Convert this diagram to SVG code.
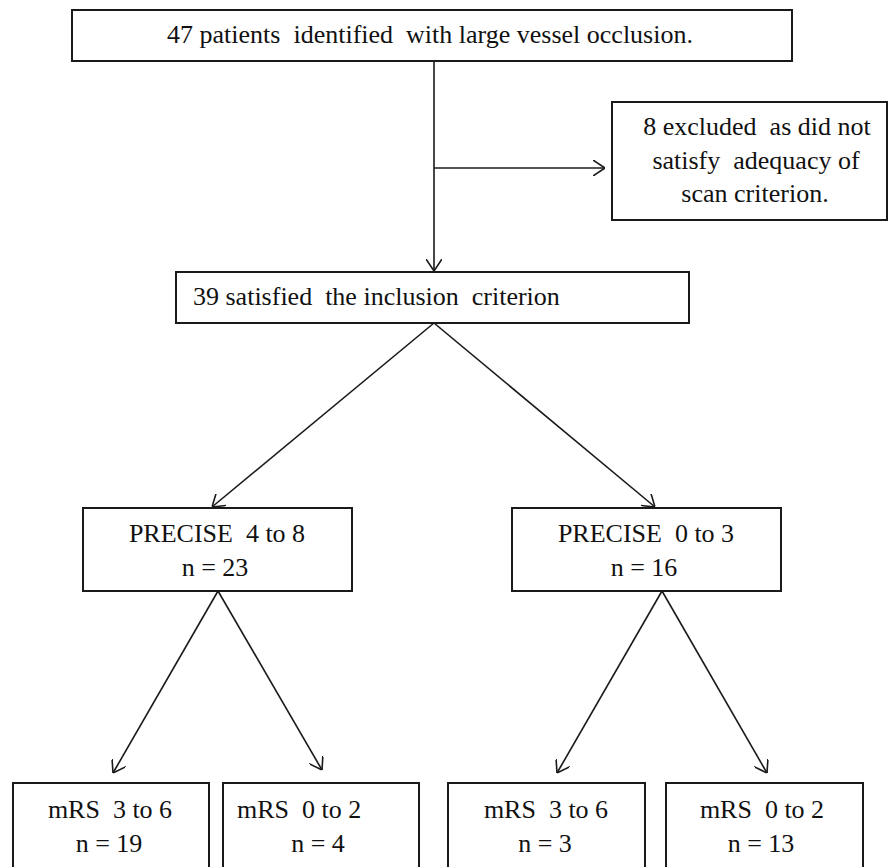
<svg xmlns="http://www.w3.org/2000/svg" width="889" height="867" viewBox="0 0 889 867">
<style>
.box{fill:#fff;stroke:#1a1a1a;stroke-width:2}
text{font-family:'Liberation Serif','DejaVu Serif',Times,serif;font-size:26px;fill:#111}
.m{text-anchor:middle}
.c{fill:none;stroke:#1a1a1a;stroke-width:1.6}
</style>
<defs>
<marker id="ah" viewBox="0 0 12 16" refX="12" refY="8" markerWidth="12" markerHeight="16" markerUnits="userSpaceOnUse" orient="auto">
<path d="M0,0 L12,8 L0,16" fill="none" stroke="#1a1a1a" stroke-width="1.6"/>
</marker>
</defs>
<rect width="889" height="867" fill="#fff"/>
<g id="connectors">
<line class="c" x1="434" y1="61" x2="434" y2="271" marker-end="url(#ah)"/>
<line class="c" x1="434" y1="168" x2="605" y2="168" marker-end="url(#ah)"/>
<line class="c" x1="434" y1="323" x2="212" y2="507" marker-end="url(#ah)"/>
<line class="c" x1="434" y1="323" x2="655" y2="507" marker-end="url(#ah)"/>
<line class="c" x1="218" y1="591" x2="113" y2="773" marker-end="url(#ah)"/>
<line class="c" x1="218" y1="591" x2="322" y2="770" marker-end="url(#ah)"/>
<line class="c" x1="662" y1="591" x2="557" y2="773" marker-end="url(#ah)"/>
<line class="c" x1="662" y1="591" x2="767" y2="773" marker-end="url(#ah)"/>
</g>
<g id="n-identified">
<rect class="box" x="72" y="10" width="720" height="51"/>
<text class="m" x="430" y="43" xml:space="preserve">47 patients  identified  with large vessel occlusion.</text>
</g>
<g id="n-excluded">
<rect class="box" x="612" y="102" width="275" height="118"/>
<text class="m" x="757" y="135" xml:space="preserve">8 excluded  as did not</text>
<text class="m" x="756" y="169" xml:space="preserve">satisfy  adequacy of</text>
<text class="m" x="755" y="202">scan criterion.</text>
</g>
<g id="n-included">
<rect class="box" x="176" y="272" width="513" height="51"/>
<text x="193" y="305" xml:space="preserve">39 satisfied  the inclusion  criterion</text>
</g>
<g id="n-precise48">
<rect class="box" x="83" y="508" width="269" height="83"/>
<text class="m" x="217" y="542" xml:space="preserve">PRECISE  4 to 8</text>
<text class="m" x="215" y="576">n = 23</text>
</g>
<g id="n-precise03">
<rect class="box" x="512" y="508" width="269" height="83"/>
<text class="m" x="646" y="542" xml:space="preserve">PRECISE  0 to 3</text>
<text class="m" x="644" y="576">n = 16</text>
</g>
<g id="n-l-poor">
<rect class="box" x="13" y="783" width="196" height="100"/>
<text class="m" x="110" y="818" xml:space="preserve">mRS  3 to 6</text>
<text class="m" x="109" y="852">n = 19</text>
</g>
<g id="n-l-good">
<rect class="box" x="223" y="783" width="196" height="100"/>
<text x="237" y="818" xml:space="preserve">mRS  0 to 2</text>
<text class="m" x="318" y="852">n = 4</text>
</g>
<g id="n-r-poor">
<rect class="box" x="448" y="783" width="197" height="100"/>
<text class="m" x="546" y="818" xml:space="preserve">mRS  3 to 6</text>
<text class="m" x="545" y="852">n = 3</text>
</g>
<g id="n-r-good">
<rect class="box" x="666" y="783" width="197" height="100"/>
<text class="m" x="762" y="818" xml:space="preserve">mRS  0 to 2</text>
<text class="m" x="761" y="852">n = 13</text>
</g>
</svg>
